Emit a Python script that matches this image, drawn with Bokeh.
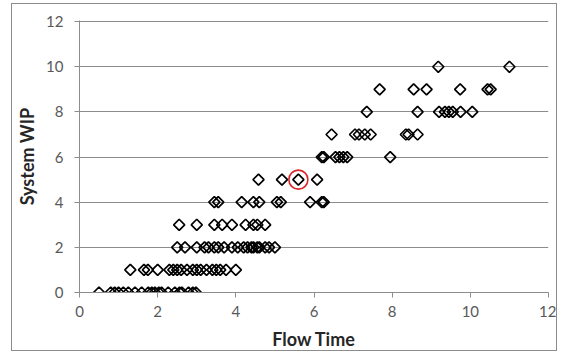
from bokeh.plotting import figure
from bokeh.models import Range1d, FixedTicker, ColumnDataSource
from bokeh.embed import file_html
from bokeh.resources import INLINE
import numpy as np

# Flow time observations grouped by the system WIP level seen at the time
flow_wip_0 = [0.5, 0.8, 0.9, 1.0, 1.12, 1.25, 1.42, 1.59, 1.76, 1.85, 1.93, 2.03,
              2.1, 2.27, 2.44, 2.56, 2.62, 2.79, 2.9, 2.98]
flow_wip_1 = [1.3, 1.65, 1.75, 2.0, 2.3, 2.4, 2.5, 2.6, 2.75, 2.9, 3.0, 3.1,
              3.25, 3.4, 3.5, 3.6, 3.75, 4.0]
flow_wip_2 = [2.5, 2.7, 3.0, 3.2, 3.3, 3.45, 3.55, 3.7, 3.9, 4.05, 4.2, 4.3,
              4.4, 4.45, 4.55, 4.6, 4.75, 4.85, 5.0]
flow_wip_3 = [2.55, 3.0, 3.45, 3.65, 3.9, 4.25, 4.45, 4.55, 4.75]
flow_wip_4 = [3.45, 3.55, 4.15, 4.45, 4.6, 5.05, 5.15, 5.9, 6.2, 6.25]
flow_wip_5 = [4.58, 5.18, 5.6, 6.08]
flow_wip_6 = [6.2, 6.25, 6.55, 6.65, 6.75, 6.85, 7.95]
flow_wip_7 = [6.45, 7.05, 7.15, 7.3, 7.45, 8.35, 8.42, 8.65]
flow_wip_8 = [7.35, 8.65, 9.2, 9.35, 9.45, 9.55, 9.75, 10.05]
flow_wip_9 = [7.68, 8.55, 8.88, 9.74, 10.44, 10.52]
flow_wip_10 = [9.18, 11.0]

# Observation singled out with a ring
highlight_flow = 5.6
highlight_wip = 5

x_ticks = [0, 2, 4, 6, 8, 10, 12]
y_ticks = [0, 2, 4, 6, 8, 10, 12]

groups = [flow_wip_0, flow_wip_1, flow_wip_2, flow_wip_3, flow_wip_4, flow_wip_5,
          flow_wip_6, flow_wip_7, flow_wip_8, flow_wip_9, flow_wip_10]
flow_time = []
system_wip = []
for wip, flows in enumerate(groups):
    flow_time.extend(flows)
    system_wip.extend([wip] * len(flows))
src = ColumnDataSource(dict(x=flow_time, y=system_wip))

grey = "#8c8c8c"
font = "Lato"

# The figure sits inside a thin grey frame drawn by its own CSS border
p = figure(width=546, height=348, output_backend="svg", toolbar_location=None,
           x_range=Range1d(0, 12), y_range=Range1d(0, 12.05),
           min_border_left=67, min_border_right=10, min_border_top=16,
           min_border_bottom=59)
p.margin = (3, 4, 7, 11)
p.styles = {"border": "1px solid " + grey, "box-sizing": "border-box"}
p.outline_line_color = None
p.background_fill_color = "white"
p.border_fill_color = "white"

p.xgrid.grid_line_color = None
p.ygrid.grid_line_color = grey
p.ygrid.grid_line_width = 1

for ax in (p.xaxis[0], p.yaxis[0]):
    ax.axis_line_color = grey
    ax.major_tick_line_color = grey
    ax.major_tick_out = 5
    ax.major_tick_in = 0
    ax.minor_tick_line_color = None
    ax.major_label_text_font = font
    ax.major_label_text_font_size = "15px"
    ax.major_label_text_color = "#595959"
    ax.axis_label_text_font = font
    ax.axis_label_text_font_size = "18px"
    ax.axis_label_text_font_style = "bold"
    ax.axis_label_text_color = "#262626"

p.xaxis.ticker = FixedTicker(ticks=x_ticks)
p.yaxis.ticker = FixedTicker(ticks=y_ticks)
p.xaxis.axis_label = "Flow Time"
p.yaxis.axis_label = "System WIP"
p.xaxis.major_label_standoff = 8
p.xaxis.axis_label_standoff = 8
p.yaxis.major_label_standoff = 11
p.yaxis.axis_label_standoff = 5

# Diamonds: squares turned 45 degrees, outline only
p.scatter("x", "y", source=src, marker="square", angle=np.pi / 4, size=7.8,
          fill_color=None, line_color="black", line_width=1.7)

p.scatter([highlight_flow], [highlight_wip], marker="circle", size=19,
          fill_color=None, line_color="#d9262b", line_width=1.6)

open("out.html", "w").write(file_html(p, INLINE))
